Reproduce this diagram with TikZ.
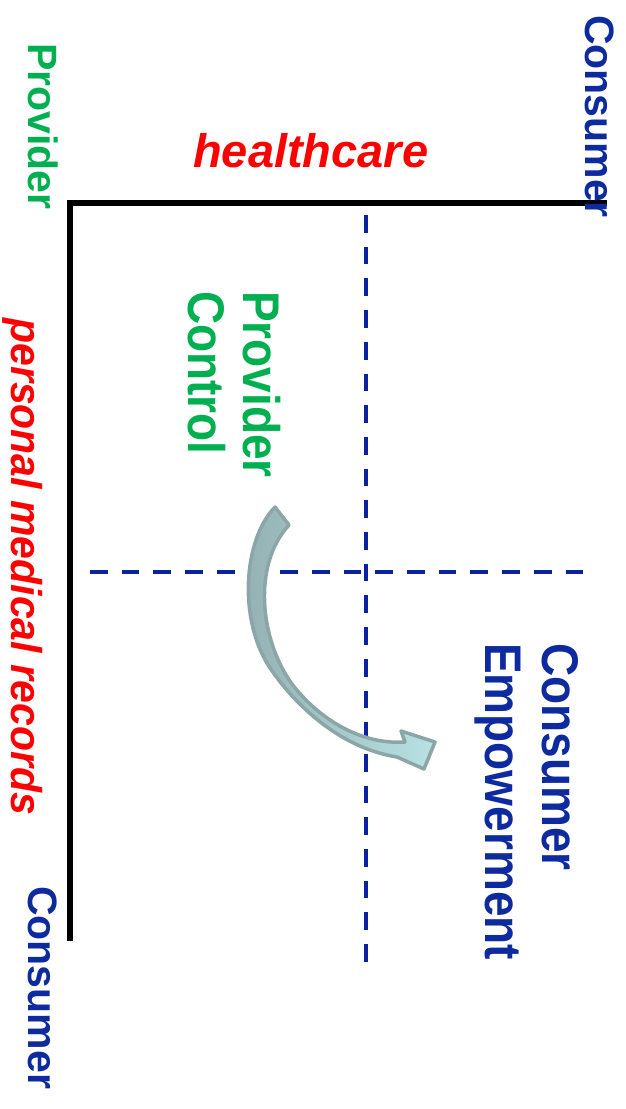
\documentclass[tikz,border=0pt]{standalone}
\usepackage{fontspec}
\setmainfont{Liberation Sans}
\usepackage{graphicx}

\definecolor{provgreen}{HTML}{00B050}
\definecolor{consblue}{HTML}{0D2A9E}
\definecolor{dashblue}{HTML}{0A22A0}
\definecolor{arrowedge}{HTML}{8CA6A8}
\definecolor{arrowdark}{HTML}{93AFB1}
\definecolor{arrowlight}{HTML}{B8E2E4}

% vertically stretched letters for the quadrant captions
\newcommand\tallbox[2][1.12]{\scalebox{1}[#1]{#2}}

\tikzset{
  caption/.style={inner sep=0pt, anchor=base west, font=\fontsize{41}{47}\selectfont\bfseries},
  bigcaption/.style={caption, font=\fontsize{46}{53}\selectfont\bfseries},
  downtext/.style={rotate=-90},
  axis/.style={line width=6pt, line cap=rect, line join=miter},
  grid/.style={dashblue, line width=4pt, dash pattern=on 17.7pt off 14pt},
  shift arrow/.style={draw=arrowedge, line width=3.5pt, line join=round,
    left color=arrowdark, right color=arrowlight}
}

\begin{document}
\begin{tikzpicture}[x=1pt, y=-1pt]
  \useasboundingbox (0,0) rectangle (625,1109);

  % axis corner and ends
  \coordinate (corner) at (70,203);
  \coordinate (topend) at (604,203);
  \coordinate (leftend) at (70,938);
  \draw[axis] (topend) -- (corner) -- (leftend);

  % quadrant dividers
  \coordinate (vtop) at (366,215);
  \coordinate (vbot) at (366,963);
  \coordinate (hleft) at (90,572);
  \coordinate (hright) at (590,572);
  \draw[grid] (vtop) -- (vbot);
  \draw[grid] (hleft) -- (hright);

  % axis labels
  \node[caption, downtext, text=provgreen] (provlbl) at (28,43) {Provider};
  \node[caption, downtext, text=consblue] (constop) at (585,15) {Consumer};
  \node[caption, downtext, text=consblue] (consbot) at (28,886) {Consumer};
  \node[caption, text=red, font=\fontsize{47}{54}\selectfont\bfseries\itshape] (hc) at (193,167) {healthcare};
  \node[caption, downtext, text=red, font=\fontsize{41}{47}\selectfont\bfseries\itshape] (pmr) at (12,318) {\tallbox[1.05]{personal medical records}};

  % quadrant captions
  \node[bigcaption, downtext, text=provgreen] (pc1) at (243,291) {\tallbox{Provider}};
  \node[bigcaption, downtext, text=provgreen] (pc2) at (188,291) {\tallbox{Control}};
  \node[bigcaption, downtext, text=consblue] (ce1) at (542,643) {\tallbox{Consumer}};
  \node[bigcaption, downtext, text=consblue] (ce2) at (485,643) {\tallbox{Empowerment}};

  % curved shift arrow
  \coordinate (tailout) at (275,507);
  \coordinate (tailin) at (289,525);
  \coordinate (neck) at (397,757);
  \coordinate (barblow) at (424,769);
  \coordinate (tip) at (435,742);
  \coordinate (barbup) at (401,731);
  \coordinate (notch) at (405,742);
  \path[shift arrow] (tailout)
    .. controls (243,540) and (238,620) .. (270,668)
    .. controls (295,705) and (340,748) .. (neck)
    -- (barblow) -- (tip) -- (barbup) -- (notch)
    .. controls (360,745) and (318,718) .. (292,684)
    .. controls (260,640) and (252,565) .. (tailin) -- cycle;
\end{tikzpicture}
\end{document}
